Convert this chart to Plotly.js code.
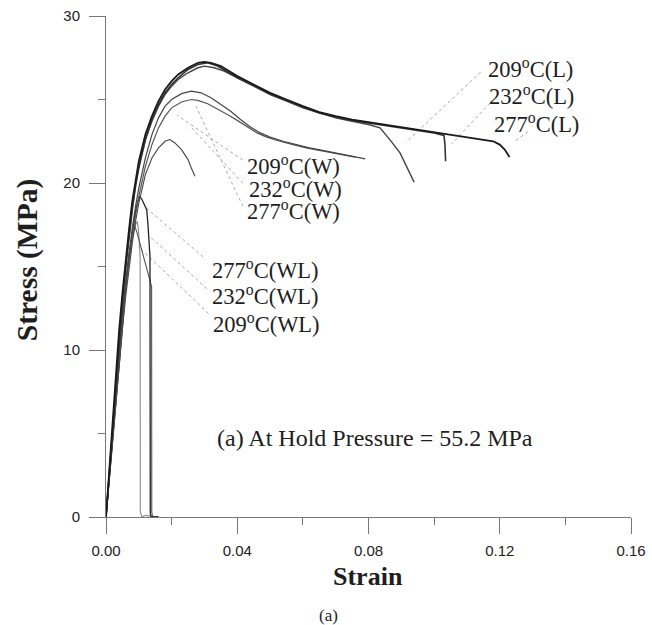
<!DOCTYPE html>
<html>
<head>
<meta charset="utf-8">
<script src="https://cdn.plot.ly/plotly-3.0.1.min.js"></script>
<style>html,body{margin:0;padding:0;background:#fff;}#chart{width:652px;height:625px;}</style>
</head>
<body>
<div id="chart"></div>
<script>
// ---- data ----
// L curves
var L1_strain = [0,0.001,0.002,0.003,0.004,0.005,0.006,0.007,0.008,0.009,0.010,0.012,0.014,0.016,0.018,0.020,0.022,0.025,0.028,0.030,0.032,0.035,0.040,0.045,0.050,0.055,0.060,0.065,0.070,0.075,0.080,0.085,0.090,0.095,0.100,0.105,0.110,0.115,0.118,0.120,0.1215,0.123];
var L1_stress = [0,2.8,5.8,8.6,11.2,13.4,15.4,17.2,18.9,20.2,21.3,22.9,24.0,24.9,25.6,26.1,26.5,26.9,27.2,27.25,27.2,27.0,26.4,25.9,25.4,25.0,24.6,24.25,24.0,23.8,23.65,23.5,23.35,23.2,23.05,22.9,22.75,22.6,22.5,22.3,22.0,21.55];
var L2_strain = [0,0.001,0.002,0.003,0.004,0.005,0.006,0.007,0.008,0.009,0.010,0.012,0.014,0.016,0.018,0.020,0.022,0.025,0.028,0.031,0.034,0.040,0.045,0.050,0.055,0.060,0.065,0.070,0.075,0.080,0.085,0.090,0.095,0.100,0.1030,0.1033,0.1035];
var L2_stress = [0,2.6,5.4,8.1,10.6,12.9,14.9,16.8,18.4,19.8,20.9,22.6,23.8,24.7,25.4,25.9,26.3,26.8,27.1,27.2,27.0,26.3,25.8,25.35,24.95,24.55,24.2,23.95,23.75,23.6,23.45,23.3,23.15,23.0,22.85,22.3,21.3];
var L3_strain = [0,0.001,0.002,0.003,0.004,0.005,0.006,0.007,0.008,0.009,0.010,0.012,0.014,0.016,0.018,0.020,0.022,0.025,0.028,0.030,0.033,0.036,0.040,0.045,0.050,0.055,0.060,0.065,0.070,0.075,0.080,0.0835,0.0865,0.0896,0.0916,0.0939];
var L3_stress = [0,2.7,5.6,8.3,10.9,13.1,15.1,16.9,18.5,19.9,21.0,22.6,23.7,24.6,25.3,25.8,26.2,26.6,26.9,27.0,26.9,26.7,26.3,25.8,25.3,24.9,24.5,24.2,23.9,23.7,23.5,23.3,22.6,21.8,21.0,20.05];
// W curves
var W1_strain = [0,0.001,0.002,0.003,0.004,0.005,0.006,0.007,0.008,0.009,0.010,0.012,0.014,0.016,0.018,0.020,0.023,0.026,0.029,0.032,0.035,0.038,0.041,0.044,0.047,0.050,0.054,0.058,0.062,0.066,0.070,0.074,0.077,0.079];
var W1_stress = [0,2.5,5.1,7.6,10.0,12.2,14.1,15.8,17.3,18.6,19.7,21.5,22.9,23.9,24.6,25.0,25.35,25.5,25.4,25.1,24.7,24.3,23.8,23.35,23.0,22.75,22.5,22.3,22.1,21.95,21.8,21.65,21.55,21.45];
var W2_strain = [0,0.001,0.002,0.003,0.004,0.005,0.006,0.007,0.008,0.009,0.010,0.012,0.014,0.016,0.018,0.020,0.023,0.026,0.028,0.031,0.034,0.037,0.040,0.043,0.046,0.049,0.053,0.057,0.061,0.065,0.069,0.073,0.076];
var W2_stress = [0,2.4,4.9,7.3,9.6,11.7,13.6,15.3,16.8,18.1,19.2,21.0,22.3,23.3,24.0,24.5,24.85,25.0,24.95,24.75,24.45,24.1,23.75,23.35,23.0,22.75,22.5,22.3,22.1,21.95,21.8,21.65,21.55];
var W3_strain = [0,0.001,0.002,0.003,0.004,0.005,0.006,0.007,0.008,0.009,0.010,0.012,0.014,0.016,0.018,0.0195,0.021,0.023,0.025,0.026,0.0271];
var W3_stress = [0,2.3,4.7,7.0,9.2,11.3,13.2,14.9,16.4,17.7,18.8,20.5,21.5,22.1,22.5,22.6,22.4,22.0,21.4,20.9,20.4];
// WL curves
var WL1_strain = [0,0.001,0.002,0.003,0.004,0.005,0.006,0.007,0.008,0.009,0.0097,0.0103,0.0110,0.0118,0.0124,0.0128,0.0132,0.0134,0.01345,0.0135,0.0138,0.016];
var WL1_stress = [0,2.3,4.7,7.1,9.4,11.6,13.6,15.4,17.0,18.3,18.9,19.2,19.0,18.7,18.4,17.5,16.4,15.6,8.0,0.2,0,0];
var WL2_strain = [0,0.001,0.002,0.003,0.004,0.005,0.006,0.007,0.008,0.009,0.0095,0.0099,0.0102,0.0104,0.01045,0.0110,0.012,0.016];
var WL2_stress = [0,2.5,5.0,7.5,9.8,12.0,13.9,15.5,16.7,17.5,17.7,17.2,16.3,15.5,0.3,0,0.1,0];
var WL3_strain = [0,0.001,0.002,0.003,0.004,0.005,0.006,0.007,0.008,0.0088,0.0095,0.0105,0.0115,0.0125,0.0135,0.0139,0.01395,0.0142,0.016];
var WL3_stress = [0,2.6,5.2,7.7,10.1,12.3,14.2,15.8,16.9,17.4,17.0,16.3,15.6,14.9,14.1,13.8,0.3,0,0];

// curve labels and leader lines (strain, stress)
var labelText = ["209<sup>o</sup>C(L)","232<sup>o</sup>C(L)","277<sup>o</sup>C(L)",
                 "209<sup>o</sup>C(W)","232<sup>o</sup>C(W)","277<sup>o</sup>C(W)",
                 "277<sup>o</sup>C(WL)","232<sup>o</sup>C(WL)","209<sup>o</sup>C(WL)"];
var labelX = [0.1159,0.1161,0.1175, 0.0423,0.0429,0.0423, 0.0317,0.0317,0.0320];
var labelY = [26.88,25.26,23.57, 21.07,19.69,18.38, 14.88,13.28,11.61];
var leaderX0 = [0.1142,0.1170,0.1286, 0.0417,0.0417,0.0417, 0.0296,0.0307,0.0312];
var leaderY0 = [26.64,24.78,23.07, 21.37,19.99,18.61, 15.58,13.68,12.19];
var leaderX1 = [0.0914,0.1053,0.1241, 0.0216,0.0256,0.0274, 0.0124,0.0134,0.0098];
var leaderY1 = [22.43,22.33,22.43, 24.07,23.41,24.60, 18.48,16.78,16.20];

var xTickVals = [0,0.04,0.08,0.12,0.16];
var xTickText = ["0.00","0.04","0.08","0.12","0.16"];
var xMinorVals = [0.02,0.06,0.10,0.14];
var yTickVals = [0,10,20,30];
var yTickText = ["0","10","20","30"];
var yMinorVals = [5,15,25];

var noteText = "(a) At Hold Pressure = 55.2 MPa";

// ---- build traces ----
var traces = [];
for (var i = 0; i < labelText.length; i++) {
  traces.push({x:[leaderX0[i],leaderX1[i]], y:[leaderY0[i],leaderY1[i]], mode:'lines',
    line:{color:'#a8a8a8', width:1, dash:'dot'}, hoverinfo:'skip', showlegend:false});
}
function curve(x, y, color, w) {
  return {x:x, y:y, mode:'lines', line:{color:color, width:w}, showlegend:false, hoverinfo:'skip'};
}
traces.push(curve(WL2_strain, WL2_stress, '#8a8a8a', 1.1));
traces.push(curve(WL3_strain, WL3_stress, '#555', 1.1));
traces.push(curve(WL1_strain, WL1_stress, '#222', 1.3));
traces.push(curve(W3_strain, W3_stress, '#444', 1.1));
traces.push(curve(W2_strain, W2_stress, '#555', 1.2));
traces.push(curve(W1_strain, W1_stress, '#444', 1.2));
traces.push(curve(L3_strain, L3_stress, '#444', 1.4));
traces.push(curve(L2_strain, L2_stress, '#333', 1.6));
traces.push(curve(L1_strain, L1_stress, '#1a1a1a', 1.8));

var serif = 'Liberation Serif, Times New Roman, serif';
var annotations = [];
for (var j = 0; j < labelText.length; j++) {
  annotations.push({x:labelX[j], y:labelY[j], xref:'x', yref:'y', text:labelText[j],
    showarrow:false, xanchor:'left', yanchor:'middle',
    font:{family:serif, size:22.5, color:'#1e1e1e'}});
}
annotations.push({x:0.0332, y:4.72, xref:'x', yref:'y', text:noteText, showarrow:false,
  xanchor:'left', yanchor:'middle',
  font:{family:serif, size:24, color:'#1e1e1e'}});
annotations.push({x:0.4988, y:-0.118, xref:'paper', yref:'paper', text:'<b>Strain</b>', showarrow:false,
  xanchor:'center', yanchor:'middle',
  font:{family:serif, size:26, color:'#1e1e1e'}});
annotations.push({x:-0.1504, y:0.5127, xref:'paper', yref:'paper', text:'<b>Stress (MPa)</b>', showarrow:false,
  xanchor:'center', yanchor:'middle', textangle:-90,
  font:{family:serif, size:29.5, color:'#1e1e1e'}});
annotations.push({x:0.4245, y:-0.1968, xref:'paper', yref:'paper', text:'(a)', showarrow:false,
  xanchor:'center', yanchor:'middle',
  font:{family:serif, size:17, color:'#1e1e1e'}});

var axisFont = {family:'Liberation Sans, Arial, sans-serif', size:15, color:'#222'};
var layout = {
  width:652, height:625,
  margin:{l:106, r:20.7, t:16, b:108.3, pad:0},
  paper_bgcolor:'#fff', plot_bgcolor:'#fff',
  showlegend:false,
  xaxis:{range:[0,0.16], tickmode:'array', tickvals:xTickVals, ticktext:xTickText,
    ticks:'outside', ticklen:16, tickwidth:1, tickcolor:'#777', showline:true, linecolor:'#777', linewidth:1,
    showgrid:false, zeroline:false, tickfont:axisFont, ticklabelstandoff:4,
    minor:{tickmode:'array', tickvals:xMinorVals, ticks:'outside', ticklen:7, tickcolor:'#777', showgrid:false}},
  yaxis:{range:[0,30], tickmode:'array', tickvals:yTickVals, ticktext:yTickText,
    ticks:'outside', ticklen:16, tickwidth:1, tickcolor:'#777', showline:true, linecolor:'#777', linewidth:1,
    showgrid:false, zeroline:false, tickfont:axisFont, ticklabelstandoff:6,
    minor:{tickmode:'array', tickvals:yMinorVals, ticks:'outside', ticklen:7, tickcolor:'#777', showgrid:false}},
  annotations:annotations
};
Plotly.newPlot('chart', traces, layout, {displayModeBar:false, staticPlot:true});
</script>
</body>
</html>
